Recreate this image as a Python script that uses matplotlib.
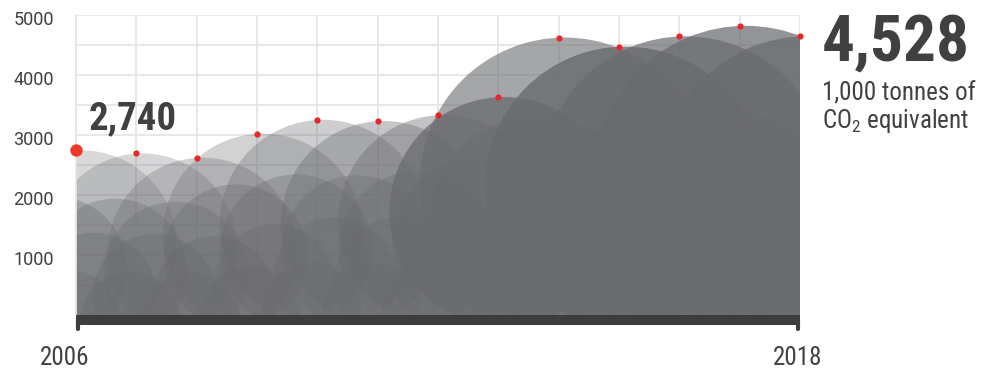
import matplotlib
matplotlib.use("Agg")
import matplotlib.pyplot as plt
import matplotlib.transforms as mtransforms
from matplotlib import font_manager
from matplotlib.patches import Ellipse, Rectangle

# Chart data
years = [2006, 2007, 2008, 2009, 2010, 2011, 2012, 2013, 2014, 2015, 2016, 2017, 2018]
emissions = [2740, 2690, 2620, 3020, 3250, 3230, 3330, 3630, 4620, 4470, 4640, 4815, 4640]
y_ticks = [1000, 2000, 3000, 4000, 5000]
x_labels = ["2006", "2018"]
first_label = "2,740"
last_label = "4,528"
unit_lines = ["1,000 tonnes of", "CO$_2$ equivalent"]

# Pick a condensed font when there is one
names = {f.name for f in font_manager.fontManager.ttflist}
if "Roboto Condensed" in names:
    COND = "Roboto Condensed"
elif "Liberation Sans Narrow" in names:
    COND = "Liberation Sans Narrow"
else:
    COND = "Roboto"
plt.rcParams["font.family"] = [COND, "DejaVu Sans"]
plt.rcParams["mathtext.fontset"] = "custom"
plt.rcParams["mathtext.rm"] = COND
plt.rcParams["mathtext.default"] = "regular"

TEXT = "#404040"
CLOUD = "#6a6b6f"
RED = "#e8262b"
GRID = "#e6e6e6"

W, H = 985, 372
fig = plt.figure(figsize=(W / 100, H / 100), dpi=100)
ax = fig.add_axes([76 / W, 57 / H, 724 / W, 300.3 / H])
ax.set_xlim(2006, 2018)
ax.set_ylim(0, 5000)

px_x = 724 / 12
px_y = 300.3 / 5000


def puff(cx, top, r_px, alpha):
    # circle in pixel space, big enough that its lower edge sits under the baseline
    r_px = max(r_px, top * px_y / 2 + 6)
    w = r_px / px_x
    h = r_px / px_y
    ax.add_patch(Ellipse((cx, top - h), 2 * w, 2 * h, facecolor=CLOUD,
                         alpha=alpha, lw=0, zorder=2))


# Cloud tiers
top_alpha = [0.25, 0.27, 0.3, 0.3, 0.33, 0.38, 0.4, 0.75, 0.6, 0.8, 0.7, 0.72, 0.72]
top_radius = [95, 95, 95, 100, 100, 100, 105, 110, 95, 125, 125, 130, 110]
tiers = [(-0.35, 0.72, 72, 0.33), (0.3, 0.5, 62, 0.36), (-0.1, 0.27, 50, 0.36)]

for i, (yr, val) in enumerate(zip(years, emissions)):
    puff(yr + 0.1, val, top_radius[i], top_alpha[i])
for dx, share, r, a in tiers:
    for yr, val in zip(years, emissions):
        puff(yr + dx, val * share, r, a)

# grid
ax.set_xticks(years)
ax.set_yticks(y_ticks)
ax.set_yticks([500, 1500, 2500, 3500, 4500], minor=True)
ax.grid(True, which="both", color=GRID, lw=1.3, zorder=0)
ax.set_axisbelow(True)
ax.tick_params(which="both", length=0)
for s in ["top", "right", "bottom"]:
    ax.spines[s].set_visible(False)
ax.spines["left"].set_color(GRID)
ax.spines["left"].set_linewidth(1.3)

# y tick labels
ax.set_yticklabels([str(v) for v in y_ticks], family="Roboto", fontsize=13, color=TEXT)
ax.tick_params(axis="y", pad=16)
shift = mtransforms.ScaledTranslation(0, -3 / 100, fig.dpi_scale_trans)
for lab in ax.get_yticklabels():
    lab.set_transform(lab.get_transform() + shift)

# x labels
ax.set_xticklabels([""] * len(years))
for txt, xp in zip(x_labels, [65, 798]):
    fig.text(xp / W, 1 - 365 / H, txt, fontsize=18, color=TEXT,
             ha="center", va="baseline")

# dark baseline bar with end ticks
ax.add_patch(Rectangle((2006, -170), 12, 170, facecolor="#3d3d3d", lw=0,
                       clip_on=False, zorder=4))
for xe in [years[0] + 0.03, years[-1] - 0.03]:
    ax.plot([xe, xe], [-100, -240], color="#3d3d3d", lw=3,
            solid_capstyle="round", clip_on=False, zorder=4)

# red points
ax.scatter(years[1:], emissions[1:], s=20, color=RED, zorder=5, clip_on=False, lw=0)
ax.scatter(years[:1], emissions[:1], s=80, color="#ee3a2a", zorder=5, clip_on=False, lw=0)

# annotations
fig.text(89 / W, 1 - 129.5 / H, first_label, fontsize=28, weight="bold",
         color=TEXT, va="baseline")
fig.text(822 / W, 1 - 61.5 / H, last_label, fontsize=47, weight="bold",
         color=TEXT, va="baseline")
fig.text(822 / W, 1 - 100.5 / H, unit_lines[0], fontsize=18, color=TEXT, va="baseline")
fig.text(822 / W, 1 - 128 / H, unit_lines[1], fontsize=18, color=TEXT, va="baseline")

fig.savefig("out.png", dpi=100)
